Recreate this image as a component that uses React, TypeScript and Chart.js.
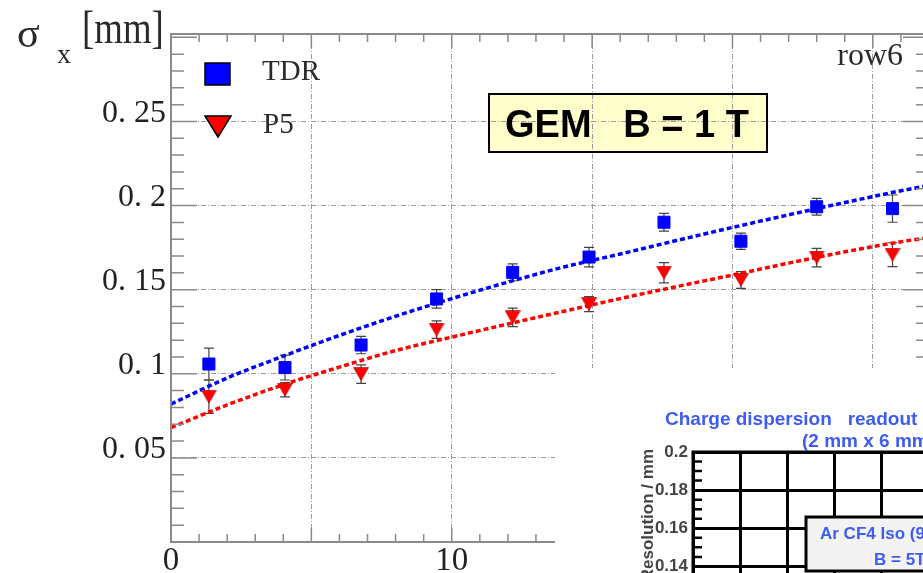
import React, { useEffect, useRef } from 'react';
import { Chart, registerables } from 'chart.js';

Chart.register(...registerables);

// ---- values ----
const driftX = [1.35, 4.06, 6.77, 9.46, 12.17, 14.89, 17.56, 20.3, 23.0, 25.7];
const tdrSigma = [0.1058, 0.1037, 0.1171, 0.1445, 0.1603, 0.1694, 0.1901, 0.1788, 0.1993, 0.1982];
const tdrErr = [0.0095, 0.0074, 0.0052, 0.0055, 0.005, 0.0058, 0.0053, 0.0048, 0.005, 0.0081];
const p5Sigma = [0.0864, 0.0905, 0.0998, 0.1262, 0.1335, 0.1414, 0.1601, 0.1558, 0.1691, 0.1708];
const p5Err = [0.0099, 0.0042, 0.0055, 0.0052, 0.0055, 0.0045, 0.006, 0.005, 0.0055, 0.0071];
const fitX = [0, 2, 4, 6, 8, 10, 12, 14, 16, 18, 20, 22, 24, 26, 27];
const tdrFit = [0.082, 0.0975, 0.1105, 0.1228, 0.1342, 0.1447, 0.1545, 0.1635, 0.1712, 0.1792, 0.187, 0.1945, 0.2018, 0.2088, 0.212];
const p5Fit = [0.068, 0.0815, 0.0935, 0.104, 0.1138, 0.1218, 0.1296, 0.1372, 0.1447, 0.1518, 0.1587, 0.1658, 0.1725, 0.1785, 0.181];
const seriesNames = ['TDR', 'P5'];
const xTickValues = [0, 10, 20];
const xTickLabels = ['0', '10', '20'];
const yTickValues = [0.05, 0.1, 0.15, 0.2, 0.25];
const yTickLabels = ['0. 05', '0. 1', '0. 15', '0. 2', '0. 25'];
const boxText = 'GEM   B = 1 T';
const cornerText = 'row6';
const insetYTickValues = [0.14, 0.16, 0.18, 0.2];
const insetYTickLabels = ['0.14', '0.16', '0.18', '0.2'];
const insetTitle = ['Charge dispersion   readout', '(2 mm x 6 mm pads)'];
const insetYTitle = 'Resolution / mm';
const insetLegend = ['Ar CF4 Iso (95:3:2)', 'B = 5T'];

const BLUE = '#0000ff';
const RED = '#ff0000';
const SERIF = '"Liberation Serif", "DejaVu Serif", serif';
const SANS = '"Liberation Sans", Arial, sans-serif';
const INSET_BLUE = '#3d5cf2';

function makeTriangle(fill: string, w: number, h: number) {
  const c = document.createElement('canvas');
  c.width = w;
  c.height = h;
  const g = c.getContext('2d')!;
  g.beginPath();
  g.moveTo(0.5, 0.5);
  g.lineTo(w - 0.5, 0.5);
  g.lineTo(w / 2, h - 0.5);
  g.closePath();
  g.fillStyle = fill;
  g.fill();
  g.strokeStyle = '#b00000';
  g.lineWidth = 0.6;
  g.stroke();
  return c;
}

const mainDecor = {
  id: 'mainDecor',
  beforeDraw(chart: any) {
    const ctx = chart.ctx;
    ctx.save();
    ctx.fillStyle = '#ffffcc';
    ctx.fillRect(489, 94, 278, 58);
    ctx.restore();
  },
  beforeDatasetsDraw(chart: any) {
    const ctx = chart.ctx;
    const ys = chart.scales.y;
    ctx.save();
    ctx.strokeStyle = '#444';
    ctx.lineWidth = 1.2;
    chart.data.datasets.forEach((ds: any, i: number) => {
      if (!ds.errors) return;
      const meta = chart.getDatasetMeta(i);
      meta.data.forEach((pt: any, j: number) => {
        const v = ds.data[j].y;
        const t = ys.getPixelForValue(v + ds.errors[j]);
        const b = ys.getPixelForValue(v - ds.errors[j]);
        ctx.beginPath();
        ctx.moveTo(pt.x, t);
        ctx.lineTo(pt.x, b);
        ctx.moveTo(pt.x - 5, t);
        ctx.lineTo(pt.x + 5, t);
        ctx.moveTo(pt.x - 5, b);
        ctx.lineTo(pt.x + 5, b);
        ctx.stroke();
      });
    });
    ctx.restore();
  },
  afterDraw(chart: any) {
    const ctx = chart.ctx;
    const { left, right, top, bottom } = chart.chartArea;
    const xs = chart.scales.x;
    const ys = chart.scales.y;
    ctx.save();
    // ticks
    ctx.strokeStyle = '#8a8a8a';
    ctx.lineWidth = 1.5;
    ctx.beginPath();
    for (let k = 0; k <= 27; k++) {
      const px = xs.getPixelForValue(k);
      const len = k % 5 === 0 ? 14 : 8;
      ctx.moveTo(px, bottom);
      ctx.lineTo(px, bottom - len);
      ctx.moveTo(px, top);
      ctx.lineTo(px, top + len);
    }
    for (let k = 0; k <= 30; k++) {
      const py = ys.getPixelForValue(k / 100);
      const len = k % 5 === 0 ? 26 : 13;
      ctx.moveTo(left, py);
      ctx.lineTo(left + len, py);
      ctx.moveTo(right, py);
      ctx.lineTo(right - len, py);
    }
    ctx.stroke();
    // frame
    ctx.lineWidth = 2;
    ctx.strokeRect(left, top, right - left, bottom - top);

    // legend
    const d0 = chart.data.datasets[0];
    const d1 = chart.data.datasets[1];
    ctx.fillStyle = d0.backgroundColor;
    ctx.fillRect(205, 63, 25, 22);
    ctx.strokeStyle = '#000';
    ctx.lineWidth = 1.5;
    ctx.strokeRect(205, 63, 25, 22);
    ctx.beginPath();
    ctx.moveTo(205, 116);
    ctx.lineTo(231, 116);
    ctx.lineTo(218, 137);
    ctx.closePath();
    ctx.fillStyle = d1.legendColor;
    ctx.fill();
    ctx.stroke();
    ctx.fillStyle = '#2a2a2a';
    ctx.font = `29px ${SERIF}`;
    ctx.textAlign = 'left';
    ctx.textBaseline = 'alphabetic';
    ctx.fillText(seriesNames[0], 262, 80);
    ctx.fillText(seriesNames[1], 263, 133);

    // GEM box
    ctx.strokeStyle = '#000';
    ctx.lineWidth = 2;
    ctx.strokeRect(489, 94, 278, 58);
    ctx.fillStyle = '#000';
    ctx.font = `bold 38px ${SANS}`;
    ctx.fillText(boxText, 505, 137);

    // row6
    ctx.fillStyle = '#2a2a2a';
    ctx.font = `32px ${SERIF}`;
    ctx.textAlign = 'right';
    ctx.fillText(cornerText, 903, 65);

    // y title
    ctx.textAlign = 'left';
    ctx.font = `42px ${SERIF}`;
    ctx.fillText('σ', 17, 47);
    ctx.font = `28px ${SERIF}`;
    ctx.fillText('x', 57, 63);
    ctx.save();
    ctx.translate(82, 43);
    ctx.scale(0.8, 1);
    ctx.font = `46px ${SERIF}`;
    ctx.fillText('[mm]', 0, 0);
    ctx.restore();
    ctx.restore();
  },
};

const insetDecor = {
  id: 'insetDecor',
  beforeDraw(chart: any) {
    const ctx = chart.ctx;
    ctx.save();
    ctx.fillStyle = '#ffffff';
    ctx.fillRect(0, 0, chart.width, chart.height);
    ctx.restore();
  },
  afterDraw(chart: any) {
    const ctx = chart.ctx;
    const { left, right, top, bottom } = chart.chartArea;
    const ys = chart.scales.y;
    ctx.save();
    ctx.strokeStyle = '#000';
    ctx.lineWidth = 3;
    ctx.strokeRect(left, top, right - left, bottom - top);
    ctx.lineWidth = 2.5;
    ctx.beginPath();
    for (let k = 12; k <= 40; k++) {
      if (k % 4 === 0) continue;
      const py = ys.getPixelForValue(k * 0.005);
      ctx.moveTo(left, py);
      ctx.lineTo(left + 9, py);
    }
    ctx.stroke();

    // title
    ctx.fillStyle = INSET_BLUE;
    ctx.font = `bold 19px ${SANS}`;
    ctx.textAlign = 'left';
    ctx.textBaseline = 'alphabetic';
    ctx.fillText(insetTitle[0], 110, 57);
    ctx.fillText(insetTitle[1], 247, 79);

    // y title
    ctx.save();
    ctx.translate(93, 81);
    ctx.rotate(-Math.PI / 2);
    ctx.fillStyle = '#444';
    ctx.font = `bold 17px ${SANS}`;
    ctx.textAlign = 'right';
    ctx.textBaseline = 'middle';
    ctx.fillText(insetYTitle, 0, 0);
    ctx.restore();

    // legend box
    ctx.fillStyle = '#f3f3f3';
    ctx.fillRect(251, 149, 260, 54);
    ctx.strokeStyle = '#000';
    ctx.lineWidth = 3;
    ctx.strokeRect(251, 149, 260, 54);
    ctx.fillStyle = INSET_BLUE;
    ctx.font = `bold 17px ${SANS}`;
    ctx.fillText(insetLegend[0], 265, 171);
    ctx.fillText(insetLegend[1], 319, 197);
    ctx.restore();
  },
};

export default function App() {
  const mainRef = useRef<HTMLCanvasElement>(null);
  const insetRef = useRef<HTMLCanvasElement>(null);

  useEffect(() => {
    const tri = makeTriangle(RED, 16, 14);
    const main = new Chart(mainRef.current!, {
      type: 'scatter',
      data: {
        datasets: [
          {
            label: seriesNames[0],
            data: driftX.map((x, i) => ({ x, y: tdrSigma[i] })),
            pointStyle: 'rect',
            pointRadius: 8.5,
            backgroundColor: BLUE,
            borderColor: BLUE,
            borderWidth: 1,
            errors: tdrErr,
          } as any,
          {
            label: seriesNames[1],
            data: driftX.map((x, i) => ({ x, y: p5Sigma[i] })),
            pointStyle: tri,
            pointRadius: 8,
            backgroundColor: RED,
            borderColor: RED,
            legendColor: RED,
            errors: p5Err,
          } as any,
          {
            label: 'TDR fit',
            data: fitX.map((x, i) => ({ x, y: tdrFit[i] })),
            showLine: true,
            borderColor: BLUE,
            borderWidth: 3.5,
            borderDash: [5, 3],
            pointRadius: 0,
            cubicInterpolationMode: 'monotone',
          } as any,
          {
            label: 'P5 fit',
            data: fitX.map((x, i) => ({ x, y: p5Fit[i] })),
            showLine: true,
            borderColor: RED,
            borderWidth: 3.5,
            borderDash: [5, 3],
            pointRadius: 0,
            cubicInterpolationMode: 'monotone',
          } as any,
        ],
      },
      options: {
        animation: false,
        responsive: false,
        events: [],
        layout: { padding: { top: 34, right: 31, left: 0, bottom: 0 } },
        plugins: { legend: { display: false }, tooltip: { enabled: false } },
        scales: {
          x: {
            type: 'linear',
            min: 0,
            max: 27,
            afterFit: (s: any) => { s.height = 58; },
            ticks: {
              stepSize: 5,
              includeBounds: false,
              autoSkip: false,
              maxRotation: 0,
              padding: 0,
              color: '#222',
              font: { family: SERIF, size: 33 },
              callback: (v: any) => {
                const i = xTickValues.indexOf(Number(v));
                return i >= 0 ? xTickLabels[i] : '';
              },
            },
            grid: {
              drawTicks: false,
              color: (c: any) => (c.tick && c.tick.value > 0 ? '#9a9a9a' : 'rgba(0,0,0,0)'),
              lineWidth: 1,
            },
            border: { display: false, dash: [5, 2, 1, 2] },
          },
          y: {
            type: 'linear',
            min: 0,
            max: 0.302,
            afterFit: (s: any) => { s.width = 171; },
            ticks: {
              stepSize: 0.05,
              includeBounds: false,
              autoSkip: false,
              padding: 5,
              labelOffset: -8,
              color: '#222',
              font: { family: SERIF, size: 32 },
              callback: (v: any) => {
                const i = yTickValues.findIndex((t) => Math.abs(t - Number(v)) < 1e-6);
                return i >= 0 ? yTickLabels[i] : '';
              },
            },
            grid: {
              drawTicks: false,
              color: (c: any) =>
                c.tick && c.tick.value > 0.001 && c.tick.value < 0.29 ? '#9a9a9a' : 'rgba(0,0,0,0)',
              lineWidth: 1,
            },
            border: { display: false, dash: [5, 2, 1, 2] },
          },
        },
      } as any,
      plugins: [mainDecor],
    });

    const inset = new Chart(insetRef.current!, {
      type: 'scatter',
      data: { datasets: [] },
      options: {
        animation: false,
        responsive: false,
        events: [],
        layout: { padding: { top: 84, right: 31, left: 0, bottom: 0 } },
        plugins: { legend: { display: false }, tooltip: { enabled: false } },
        scales: {
          x: {
            type: 'linear',
            min: 0,
            max: 10,
            afterFit: (s: any) => { s.height = 49; },
            ticks: { stepSize: 1, display: false },
            grid: { drawTicks: false, color: '#000', lineWidth: 3 },
            border: { display: false },
          },
          y: {
            type: 'linear',
            min: 0.06,
            max: 0.2,
            afterFit: (s: any) => { s.width = 138; },
            ticks: {
              stepSize: 0.02,
              autoSkip: false,
              padding: 5,
              color: '#444',
              font: { family: SANS, size: 17, weight: 'bold' },
              callback: (v: any) => {
                const i = insetYTickValues.findIndex((t) => Math.abs(t - Number(v)) < 1e-6);
                return i >= 0 ? insetYTickLabels[i] : '';
              },
            },
            grid: { drawTicks: false, color: '#000', lineWidth: 3 },
            border: { display: false },
          },
        },
      } as any,
      plugins: [insetDecor],
    });

    return () => {
      main.destroy();
      inset.destroy();
    };
  }, []);

  return (
    <div
      style={{
        position: 'fixed',
        left: 0,
        top: 0,
        width: 923,
        height: 573,
        overflow: 'hidden',
        background: '#fff',
      }}
    >
      <div style={{ position: 'absolute', left: 0, top: 0, width: 960, height: 600 }}>
        <canvas ref={mainRef} width={960} height={600} />
      </div>
      <div
        style={{ position: 'absolute', left: 555, top: 368, width: 640, height: 400, background: '#fff' }}
      >
        <canvas ref={insetRef} width={640} height={400} />
      </div>
    </div>
  );
}
